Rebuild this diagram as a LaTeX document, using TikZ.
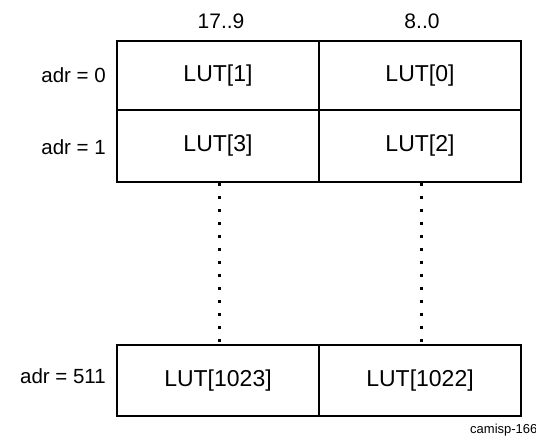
\documentclass[tikz,border=0pt]{standalone}
\usepackage{fontspec}
\setmainfont{Liberation Sans}
\begin{document}
\begin{tikzpicture}[x=1pt,y=1pt,
  cell/.style={draw,line width=1.6pt,minimum width=202pt,inner sep=0pt,font=\fontsize{23}{26}\selectfont},
  rowlab/.style={anchor=east,inner sep=0pt,font=\fontsize{20.5}{24}\selectfont},
  collab/.style={inner sep=0pt,font=\fontsize{21}{24}\selectfont},
  dotline/.style={line width=3pt,dash pattern=on 3pt off 10pt}]
\useasboundingbox (0,0) rectangle (536,440);
% row 0: y 41-110 -> 399-330
\node[cell,minimum height=69pt] (c10) at (218,364.5) {LUT[1]};
\node[cell,minimum height=69pt] (c00) at (420,364.5) {LUT[0]};
% row 1: y 110-182 -> 330-258
\node[cell,minimum height=72pt] (c11) at (218,294) {LUT[3]};
\node[cell,minimum height=72pt] (c01) at (420,294) {LUT[2]};
% row 511: y 345-416 -> 95-24
\node[cell,minimum height=71pt] (c1n) at (218,59.5) {LUT[1023]};
\node[cell,minimum height=71pt] (c0n) at (420,59.5) {LUT[1022]};
\node[collab] (h1) at (221,419) {17..9};
\node[collab] (h0) at (422,419) {8..0};
\node[rowlab] (r0) at (106,365) {adr = 0};
\node[rowlab] (r1) at (106,293) {adr = 1};
\node[rowlab] (rn) at (106,64) {adr = 511};
\draw[dotline] ([xshift=1pt]c11.south) -- ([xshift=1pt]c1n.north);
\draw[dotline] ([xshift=1pt]c01.south) -- ([xshift=1pt]c0n.north);
\node[anchor=west,inner sep=0pt,font=\fontsize{13}{15}\selectfont] (tag) at (470,10) {camisp-166};
\end{tikzpicture}
\end{document}
